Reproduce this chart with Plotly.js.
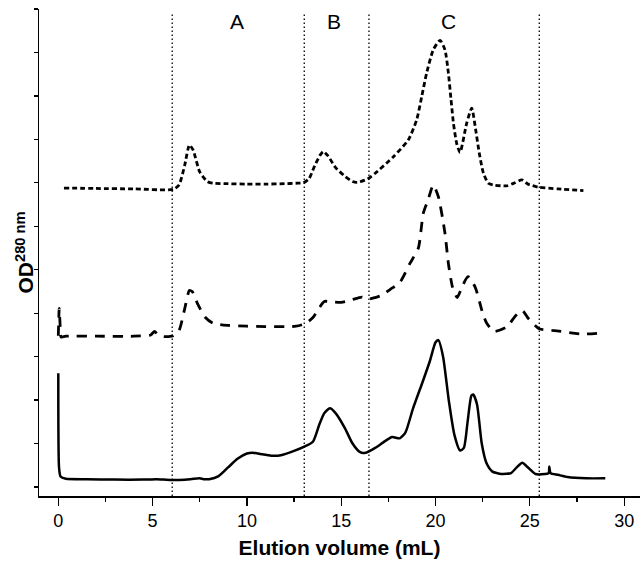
<!DOCTYPE html>
<html>
<head>
<meta charset="utf-8">
<script src="https://cdn.plot.ly/plotly-3.0.1.min.js"></script>
<style>html,body{margin:0;padding:0;background:#fff;}#chart{width:641px;height:562px;}</style>
</head>
<body>
<div id="chart"></div>
<script>
// Solid trace
const solidX = [0.0, 0.04, 0.12, 0.4, 1.5, 3, 4.5, 5.2, 6, 7, 7.5, 7.7, 8, 8.5, 9, 9.5, 10, 10.3, 10.7, 11.3, 11.8, 12.5, 13.1, 13.5, 13.85, 14.1, 14.4, 14.7, 15.2, 15.6, 16.0, 16.3, 16.8, 17.3, 17.7, 18.1, 18.4, 18.8, 19.3, 19.7, 20.0, 20.15, 20.4, 20.7, 21.0, 21.3, 21.5, 21.7, 21.9, 22.0, 22.2, 22.45, 22.7, 23.0, 23.5, 24.0, 24.3, 24.6, 24.9, 25.3, 25.8, 26.0, 26.03, 26.1, 26.5, 27.0, 28.0, 29.0];
const solidY = [2.62, 0.45, 0.24, 0.19, 0.18, 0.17, 0.17, 0.18, 0.16, 0.18, 0.2, 0.18, 0.18, 0.25, 0.45, 0.65, 0.77, 0.79, 0.76, 0.72, 0.73, 0.83, 0.94, 1.04, 1.45, 1.7, 1.81, 1.7, 1.35, 1.0, 0.8, 0.79, 0.9, 1.05, 1.15, 1.12, 1.25, 1.8, 2.4, 2.9, 3.33, 3.38, 3.0, 2.0, 1.2, 0.84, 0.9, 1.5, 2.1, 2.13, 1.9, 1.0, 0.55, 0.36, 0.3, 0.32, 0.45, 0.56, 0.45, 0.3, 0.3, 0.32, 0.47, 0.32, 0.28, 0.23, 0.2, 0.2];

// Dashed trace
const dashX = [0.0, 0.05, 0.1, 0.15, 0.4, 2, 4, 4.9, 5.1, 5.3, 5.6, 6.1, 6.4, 6.7, 6.95, 7.1, 7.4, 7.8, 8.2, 9, 10, 11, 12, 12.6, 13.1, 13.5, 13.8, 14.1, 14.5, 15, 15.5, 16.1, 16.4, 16.8, 17.2, 17.6, 18.1, 18.65, 19.09, 19.35, 19.6, 19.88, 20.15, 20.5, 20.68, 20.9, 21.15, 21.4, 21.72, 22.1, 22.5, 22.7, 23.1, 23.8, 24.2, 24.6, 24.9, 25.5, 26.3, 27.8, 28.9];
const dashY = [3.48, 4.11, 3.7, 3.45, 3.47, 3.47, 3.47, 3.5, 3.58, 3.5, 3.46, 3.48, 3.6, 4.1, 4.52, 4.5, 4.2, 3.9, 3.77, 3.72, 3.7, 3.69, 3.69, 3.7, 3.76, 3.9, 4.1, 4.27, 4.26, 4.25, 4.3, 4.37, 4.32, 4.36, 4.42, 4.55, 4.7, 5.15, 5.5, 6.3, 6.6, 6.95, 6.68, 5.84, 5.15, 4.6, 4.36, 4.6, 4.84, 4.6, 4.0, 3.78, 3.58, 3.69, 3.92, 4.06, 3.89, 3.64, 3.6, 3.52, 3.55];

// Dotted trace
const dotX = [0.3, 2, 4, 6.1, 6.4, 6.7, 6.95, 7.15, 7.5, 7.9, 8.2, 9, 10, 11, 12, 12.6, 13.0, 13.3, 13.6, 13.9, 14.05, 14.3, 14.7, 15.2, 15.6, 15.85, 16.4, 16.8, 17.4, 17.77, 18.56, 19.0, 19.27, 19.53, 19.88, 20.24, 20.5, 20.68, 20.82, 20.95, 21.12, 21.3, 21.65, 21.92, 22.1, 22.32, 22.54, 22.8, 23.07, 23.77, 24.2, 24.57, 24.9, 25.45, 26.5, 27.84];
const dotY = [6.88, 6.87, 6.86, 6.85, 6.95, 7.4, 7.87, 7.75, 7.25, 7.03, 6.99, 6.98, 6.97, 6.97, 6.98, 6.99, 7.0, 7.1, 7.4, 7.65, 7.72, 7.62, 7.35, 7.15, 7.03, 7.01, 7.09, 7.22, 7.45, 7.6, 7.99, 8.45, 8.99, 9.53, 10.06, 10.28, 10.06, 9.53, 8.92, 8.37, 7.91, 7.7, 8.37, 8.72, 8.3, 7.68, 7.22, 6.99, 6.95, 6.93, 7.0, 7.07, 6.97, 6.9, 6.86, 6.82];

// Fraction cut positions and region labels
const cutX = [6.04, 13.04, 16.47, 25.5];
const regionLabels = ['A', 'B', 'C'];
const regionLabelX = [9.5, 14.6, 20.7];

const FONT = 'Liberation Sans, Arial, sans-serif';

const traces = [
  {x: solidX, y: solidY, mode: 'lines', line: {color: '#000', width: 2.5, shape: 'spline', smoothing: 0.6}, hoverinfo: 'skip'},
  {x: dashX, y: dashY, mode: 'lines', line: {color: '#000', width: 2.8, dash: '10px,8px', shape: 'spline', smoothing: 0.6}, hoverinfo: 'skip'},
  {x: dotX, y: dotY, mode: 'lines', line: {color: '#000', width: 2.8, dash: '5px,3px', shape: 'spline', smoothing: 0.6}, hoverinfo: 'skip'}
];

const shapes = cutX.map(cx => ({
  type: 'line', xref: 'x', yref: 'y', x0: cx, x1: cx, y0: -0.207, y1: 10.93,
  line: {color: '#000', width: 1.3, dash: '1.5px,2.5px'}
}));

const annotations = regionLabels.map((t, i) => ({
  text: t, x: regionLabelX[i], y: 10.71, xref: 'x', yref: 'y', showarrow: false,
  font: {family: FONT, size: 21, color: '#000'}
}));
annotations.push({
  text: '<b>OD<sup>280 nm</sup></b>', xref: 'paper', yref: 'paper', x: 0, y: 0.5,
  xanchor: 'center', yanchor: 'middle', xshift: -15, textangle: -90, showarrow: false,
  font: {family: FONT, size: 21, color: '#000'}
});

const layout = {
  width: 641, height: 562,
  margin: {l: 39, r: 1, t: 9, b: 66},
  paper_bgcolor: '#fff', plot_bgcolor: '#fff',
  showlegend: false,
  font: {family: FONT, color: '#000'},
  xaxis: {
    range: [-1.023, 30.84], showgrid: false, zeroline: false,
    showline: true, linecolor: '#000', linewidth: 1.5,
    ticks: 'outside', ticklen: 8, tickwidth: 1.3, tickcolor: '#000',
    tick0: 0, dtick: 5,
    minor: {dtick: 2.5, ticks: 'outside', ticklen: 4, tickwidth: 1.3, tickcolor: '#000', showgrid: false},
    tickfont: {family: FONT, size: 18, color: '#000'},
    title: {text: 'Elution volume (mL)', font: {family: FONT, size: 21, color: '#000', weight: 'bold'}, standoff: 10}
  },
  yaxis: {
    range: [-0.207, 11.0], showgrid: false, zeroline: false,
    showline: true, linecolor: '#000', linewidth: 1.5,
    ticks: 'outside', ticklen: 4, tickwidth: 1.3, tickcolor: '#000',
    tick0: 0, dtick: 1, showticklabels: false
  },
  shapes: shapes,
  annotations: annotations
};

Plotly.newPlot('chart', traces, layout, {displayModeBar: false, staticPlot: true});
</script>
</body>
</html>
